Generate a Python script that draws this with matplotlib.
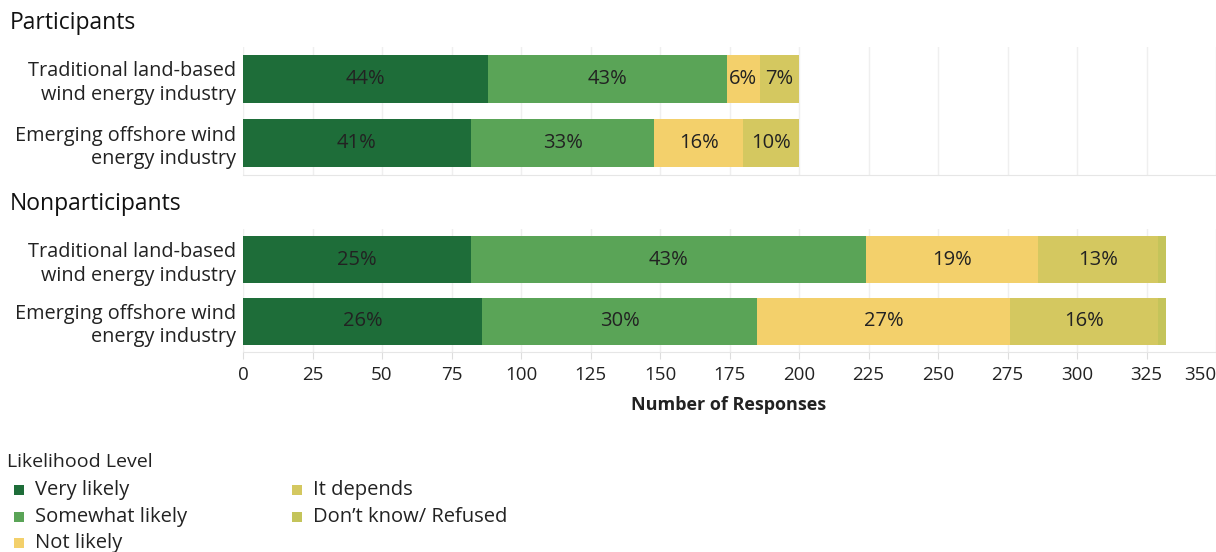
import matplotlib
matplotlib.use("Agg")
import matplotlib.pyplot as plt
from matplotlib.patches import Rectangle
import numpy as np

plt.rcParams['font.family'] = ['Open Sans', 'DejaVu Sans']

# ---- data ----
levels = ["Very likely", "Somewhat likely", "Not likely", "It depends", "Don\u2019t know/ Refused"]
colors = ["#1e6d39", "#5aa457", "#f3d06b", "#d4c860", "#c4c45a"]
row_labels = ["Traditional land-based\nwind energy industry",
              "Emerging offshore wind\nenergy industry"]
groups = ["Participants", "Nonparticipants"]
participants = {
    "Very likely": [88, 82],
    "Somewhat likely": [86, 66],
    "Not likely": [12, 32],
    "It depends": [14, 20],
    "Don\u2019t know/ Refused": [0, 0],
}
nonparticipants = {
    "Very likely": [82, 86],
    "Somewhat likely": [142, 99],
    "Not likely": [62, 91],
    "It depends": [43, 53],
    "Don\u2019t know/ Refused": [3, 3],
}
xticks = list(range(0, 351, 25))
xlabel = "Number of Responses"
legend_title = "Likelihood Level"

W, H = 1216, 552
fig = plt.figure(figsize=(W / 100, H / 100), dpi=100)


def px_axes(x0, y0, x1, y1):
    return fig.add_axes([x0 / W, 1 - y1 / H, (x1 - x0) / W, (y1 - y0) / H])


def draw_panel(ax, data, bar_h, show_x):
    left = np.zeros(len(row_labels))
    totals = np.sum([data[l] for l in levels], axis=0)
    ypos = np.arange(len(row_labels))
    for lev, col in zip(levels, colors):
        vals = np.array(data[lev], dtype=float)
        ax.barh(ypos, vals, left=left, height=bar_h, color=col, edgecolor='none', zorder=2)
        for i, v in enumerate(vals):
            pct = v / totals[i] * 100
            if pct >= 3:
                ax.text(left[i] + v / 2, ypos[i], f"{pct:.0f}%", ha='center', va='center',
                        fontsize=14.5, color='#222222', zorder=3)
        left += vals
    ax.set_xlim(0, 350)
    ax.set_ylim(len(row_labels) - 0.5, -0.5)
    ax.set_yticks(ypos)
    ax.set_yticklabels(row_labels, fontsize=14.3, color='#222222', linespacing=1.22)
    ax.set_xticks(xticks)
    ax.grid(axis='x', color='#efefef', linewidth=1, zorder=0)
    for s in ['top', 'right', 'left']:
        ax.spines[s].set_visible(False)
    ax.spines['bottom'].set_color('#e6e6e6')
    ax.tick_params(axis='y', length=0, pad=5)
    if show_x:
        ax.tick_params(axis='x', length=5, color='#dddddd', labelsize=13.5,
                       labelcolor='#222222', pad=5)
        ax.set_xticklabels([str(t) for t in xticks])
        for lbl in ax.get_xticklabels():
            if lbl.get_text() == "350":
                lbl.set_horizontalalignment('right')
    else:
        ax.tick_params(axis='x', length=0, labelbottom=False)


ax1 = px_axes(243, 47, 1216, 175)
draw_panel(ax1, participants, 0.75, False)
ax2 = px_axes(243, 229, 1216, 352)
draw_panel(ax2, nonparticipants, 0.77, True)

fig.text(10 / W, 1 - 23 / H, groups[0], fontsize=16.5, color='#111111', va='center', ha='left')
fig.text(10 / W, 1 - 204 / H, groups[1], fontsize=16.5, color='#111111', va='center', ha='left')

fig.text(729 / W, 1 - 405 / H, xlabel, fontsize=13, fontweight='bold', color='#222222',
         ha='center', va='center')

# legend
fig.text(7 / W, 1 - 462 / H, legend_title, fontsize=14, color='#222222', va='center', ha='left')
positions = [(14, 490), (14, 517), (14, 543), (292, 490), (292, 517)]
for (x, y), lev, col in zip(positions, levels, colors):
    fig.patches.append(Rectangle((x / W, 1 - (y + 5) / H), 10 / W, 10 / H,
                                 transform=fig.transFigure, facecolor=col, edgecolor='none'))
    fig.text((x + 21) / W, 1 - y / H, lev, fontsize=14.5, color='#222222', va='center', ha='left')

fig.savefig("out.png", dpi=100, facecolor='white')
